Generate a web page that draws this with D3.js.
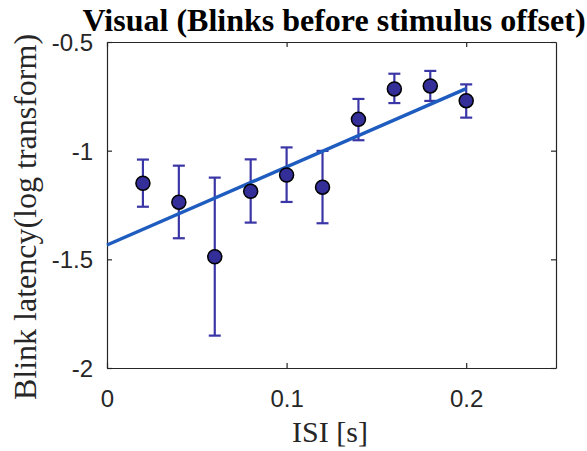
<!DOCTYPE html>
<html><head><meta charset="utf-8">
<script src="https://cdn.jsdelivr.net/npm/d3@7"></script>
<style>body{margin:0;background:#fff}</style>
</head><body>
<svg id="c" width="587" height="451"></svg>
<script>
const isi = [0.02, 0.04, 0.06, 0.08, 0.10, 0.12, 0.14, 0.16, 0.18, 0.20];
const latency = [-1.15, -1.237, -1.488, -1.187, -1.112, -1.168, -0.856, -0.716, -0.702, -0.770];
const errTop = [-1.041, -1.069, -1.124, -1.040, -0.985, -1.001, -0.762, -0.646, -0.633, -0.695];
const errBottom = [-1.258, -1.403, -1.851, -1.331, -1.236, -1.334, -0.952, -0.781, -0.771, -0.848];
const fitX = [0, 0.2];
const fitY = [-1.434, -0.715];
const xTicks = [0, 0.1, 0.2];
const yTicks = [-0.5, -1, -1.5, -2];

const svg = d3.select("#c");
const L = 107, R = 556, T = 42, B = 368;
const x = d3.scaleLinear().domain([0, 0.25]).range([L, R]);
const y = d3.scaleLinear().domain([-2, -0.5]).range([B, T]);
const fmt = d => String(d);

// axes
const gx = svg.append("g").attr("transform", `translate(0,${B})`)
  .call(d3.axisBottom(x).tickValues(xTicks).tickFormat(fmt).tickSizeInner(-5).tickSizeOuter(0).tickPadding(22));
const gxTop = svg.append("g").attr("transform", `translate(0,${T})`)
  .call(d3.axisTop(x).tickValues(xTicks).tickFormat("").tickSizeInner(-5).tickSizeOuter(0));
const gy = svg.append("g").attr("transform", `translate(${L},0)`)
  .call(d3.axisLeft(y).tickValues(yTicks).tickFormat(fmt).tickSizeInner(-5).tickSizeOuter(0).tickPadding(14));
const gyR = svg.append("g").attr("transform", `translate(${R},0)`)
  .call(d3.axisRight(y).tickValues(yTicks).tickFormat("").tickSizeInner(-5).tickSizeOuter(0));
[gx, gxTop, gy, gyR].forEach(g => {
  g.selectAll("path,line").attr("stroke", "#262626").attr("stroke-width", 1.2);
  g.selectAll("text").attr("font-family", "Liberation Sans, Arial, sans-serif").attr("font-size", 24).attr("fill", "#262626");
});
gy.selectAll("text").attr("dy", "0.36em");

// error bars
const eb = svg.append("g").attr("stroke", "#3a36a6").attr("stroke-width", 2.2).attr("fill", "none");
isi.forEach((v, i) => {
  eb.append("line").attr("x1", x(v)).attr("x2", x(v)).attr("y1", y(errTop[i])).attr("y2", y(errBottom[i]));
  eb.append("line").attr("x1", x(v) - 6).attr("x2", x(v) + 6).attr("y1", y(errTop[i])).attr("y2", y(errTop[i]));
  eb.append("line").attr("x1", x(v) - 6).attr("x2", x(v) + 6).attr("y1", y(errBottom[i])).attr("y2", y(errBottom[i]));
});

// fit line
svg.append("path")
  .datum(fitX.map((v, i) => [v, fitY[i]]))
  .attr("d", d3.line().x(d => x(d[0])).y(d => y(d[1])))
  .attr("stroke", "#1f5cbf").attr("stroke-width", 3.5).attr("fill", "none");

// points
svg.append("g").selectAll("circle").data(isi).join("circle")
  .attr("cx", d => x(d)).attr("cy", (d, i) => y(latency[i])).attr("r", 7)
  .attr("fill", "#332e98").attr("stroke", "#000").attr("stroke-width", 1.5);

// labels
svg.append("text").attr("x", 334).attr("y", 31).attr("text-anchor", "middle")
  .attr("font-family", "Liberation Serif, Times New Roman, serif").attr("font-weight", "bold")
  .attr("font-size", 32).text("Visual (Blinks before stimulus offset)");
svg.append("text").attr("x", 330).attr("y", 442).attr("text-anchor", "middle")
  .attr("font-family", "Liberation Serif, Times New Roman, serif").attr("font-size", 30).attr("fill", "#262626")
  .text("ISI [s]");
svg.append("text").attr("transform", "translate(36,217) rotate(-90)").attr("text-anchor", "middle")
  .attr("font-family", "Liberation Serif, Times New Roman, serif").attr("font-size", 32).attr("fill", "#262626")
  .text("Blink latency(log transform)");
</script>
</body></html>
